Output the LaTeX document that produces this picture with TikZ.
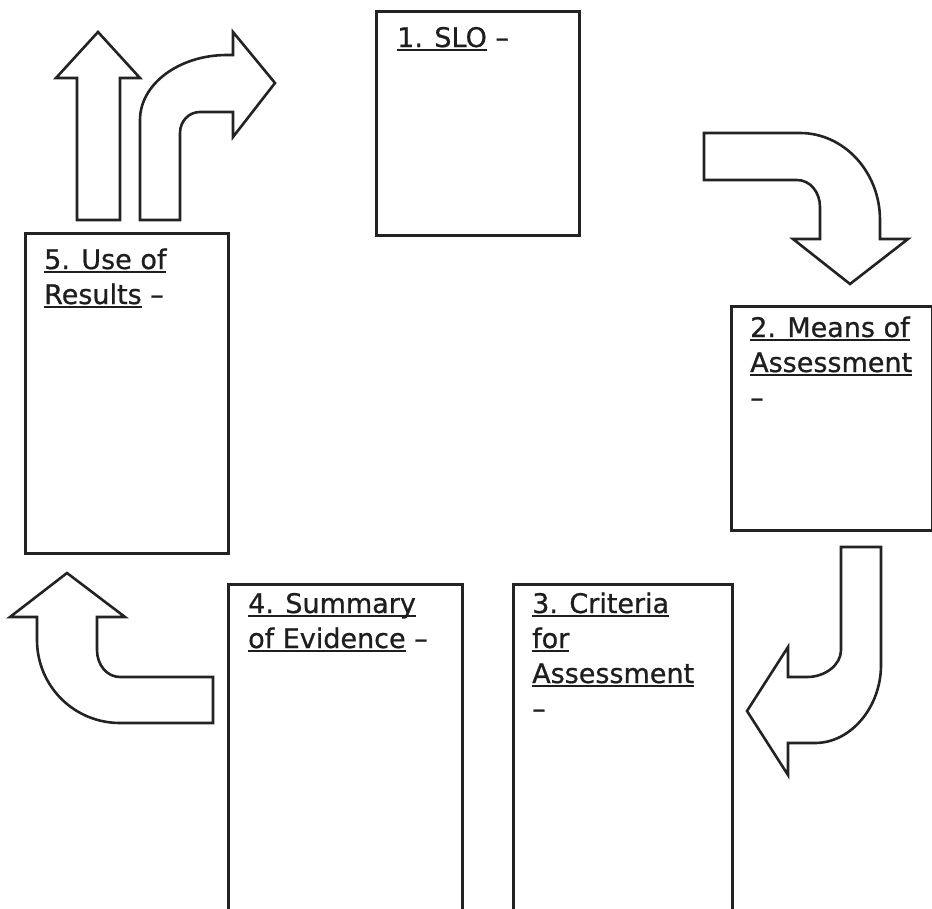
\documentclass[tikz,border=0pt]{standalone}
\usepackage{fontspec}
\setmainfont{DejaVu Sans}[FakeBold=0.8]
\definecolor{LN}{RGB}{35,35,35}
\definecolor{TX}{RGB}{30,30,30}
\newcommand\ulw[1]{\setbox0\hbox{#1}\rlap{\rule[-3.5pt]{\wd0}{2pt}}\box0\relax}

\begin{document}
\begin{tikzpicture}[x=1pt, y=-1pt,
  box/.style={draw=LN, line width=2.6pt, anchor=north west, inner sep=0pt},
  lbl/.style={anchor=base west, align=left, inner sep=0pt, text=TX,
              font=\fontsize{27}{35}\selectfont},
  blk/.style={draw=LN, line width=2.6pt, line join=miter}
]
\useasboundingbox (0,0) rectangle (932,908);

\node[box, minimum width=203, minimum height=224] (slo)   at (375,10)  {};
\node[box, minimum width=201, minimum height=224] (means) at (730,305) {};
\node[box, minimum width=219, minimum height=340] (crit)  at (512,583) {};
\node[box, minimum width=234, minimum height=340] (summ)  at (227,583) {};
\node[box, minimum width=203, minimum height=320] (use)   at (24,232)  {};

% labels sit on the baseline of their last line
\node[lbl] (tslo)   at (397,47)  {\ulw{1. SLO} –};
\node[lbl] (tmeans) at (750,407) {\ulw{2. Means of}\\\ulw{Assessment}\\–};
\node[lbl] (tcrit)  at (532,718) {\ulw{3. Criteria}\\\ulw{for}\\\ulw{Assessment}\\–};
\node[lbl] (tsumm)  at (248,648) {\ulw{4. Summary}\\\ulw{of Evidence} –};
\node[lbl] (tuse)   at (44,304)  {\ulw{5. Use of}\\\ulw{Results} –};

% block arrows
\draw[blk] (77,220) -- (77,78) -- (56,78) -- (98,32) -- (140,78) -- (120,78)
  -- (120,220) -- cycle;
\draw[blk] (140,220) -- (140,120) .. controls (140,84) and (179,55) .. (227,55)
  -- (233,55) -- (233,32) -- (275,83) -- (233,137) -- (233,112) -- (200,112)
  .. controls (189,112) and (180,121) .. (180,133) -- (180,220) -- cycle;
\draw[blk] (704,133) -- (800,133) .. controls (844,133) and (880,172) .. (880,220)
  -- (880,239) -- (908,239) -- (850,284) -- (793,239) -- (820,239) -- (820,207)
  .. controls (820,192) and (810,180) .. (797,180) -- (704,180) -- cycle;
\draw[blk] (841,547) -- (881,547) -- (881,665) .. controls (881,707) and (851,743) .. (815,743)
  -- (788,743) -- (788,775) -- (747,711) -- (788,647) -- (788,677) -- (807,677)
  .. controls (825,677) and (841,665) .. (841,650) -- cycle;
\draw[blk] (213,677) -- (120,677) .. controls (107,677) and (97,665) .. (97,650)
  -- (97,617) -- (125,617) -- (67,573) -- (10,617) -- (37,617) -- (37,640)
  .. controls (37,686) and (74,723) .. (120,723) -- (213,723) -- cycle;
\end{tikzpicture}
\end{document}
